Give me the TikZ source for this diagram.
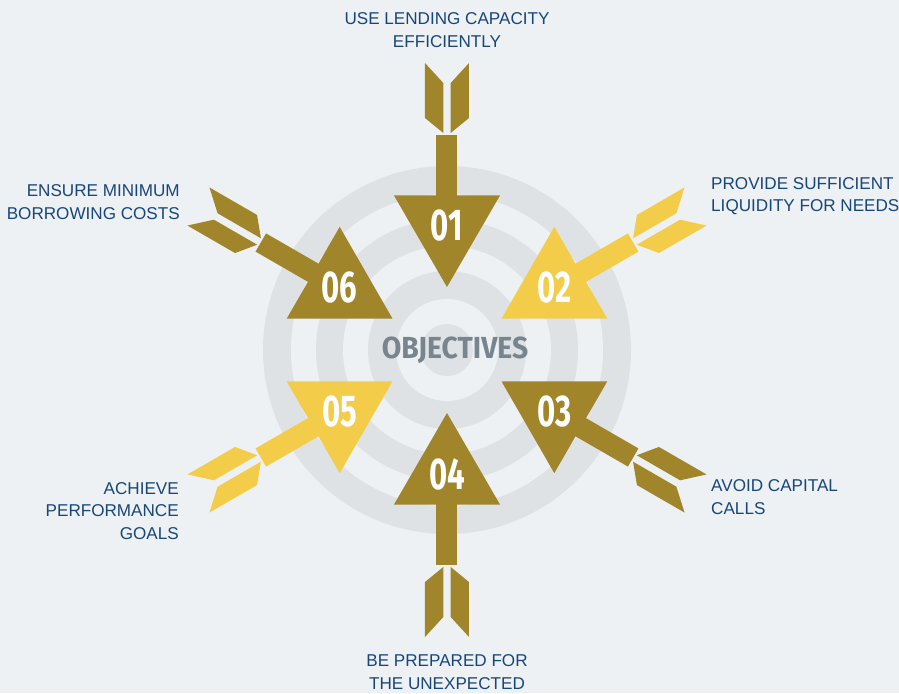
\documentclass[tikz,border=0pt]{standalone}
\usepackage{fontspec}
\setmainfont{Liberation Sans}
\newfontfamily\numfont[FakeStretch=0.7]{Fira Sans}
\newfontfamily\titlefont[FakeStretch=0.93]{Fira Sans}

\definecolor{bgcol}{HTML}{EDF1F3}
\definecolor{ringcol}{HTML}{DEE2E5}
\definecolor{gold}{HTML}{A0852B}
\definecolor{sun}{HTML}{F3CD4A}
\definecolor{labelblue}{HTML}{184679}
\definecolor{titlegray}{HTML}{78858F}

\tikzset{
  goal/.style={font=\fontsize{14.6}{19.2}\selectfont, text=labelblue, inner sep=0pt},
  numlabel/.style={font=\numfont\bfseries\fontsize{38}{38}\selectfont, text=white, inner sep=0pt},
}

\begin{document}
\begin{tikzpicture}[x=0.3mm, y=0.3mm]
  % fond
  \fill[bgcol] (-447,-343) rectangle (452,350);
  \useasboundingbox (-447,-343) rectangle (452,350);

  % cible
  \foreach \r/\c in {184/ringcol, 156/bgcol, 131/ringcol, 104/bgcol, 79/ringcol, 51/bgcol, 26/ringcol}
    \fill[\c] (0,0) circle (\r);

  % flèches : tige, plumes, pointe
  \foreach \a/\c/\n in {90/gold/01, 30/sun/02, -30/gold/03, -90/gold/04, -150/sun/05, 150/gold/06} {
    \begin{scope}[rotate=\a]
      \fill[\c] (150,-10.5) rectangle (215,10.5);
      \fill[\c] (217,3.7) -- (232,22) -- (287,22) -- (267,3.7) -- cycle;
      \fill[\c] (217,-3.7) -- (232,-22) -- (287,-22) -- (267,-3.7) -- cycle;
      \fill[\c] (63,0) -- (154.5,53) -- (154.5,-53) -- cycle;
    \end{scope}
    \node[numlabel] (n\n) at (\a:124) {\n};
  }

  \node[font=\titlefont\bfseries\fontsize{26}{26}\selectfont, text=titlegray] (title) at (8,0) {OBJECTIVES};

  % objectifs
  \node[goal, align=center] (g01) at (0,320) {USE LENDING CAPACITY\\EFFICIENTLY};
  \node[goal, align=left, anchor=west] (g02) at (264,154) {PROVIDE SUFFICIENT\\LIQUIDITY FOR NEEDS};
  \node[goal, align=left, anchor=west] (g03) at (264,-147) {AVOID CAPITAL\\CALLS};
  \node[goal, align=center] (g04) at (0,-322) {BE PREPARED FOR\\THE UNEXPECTED};
  \node[goal, align=right, anchor=east] (g05) at (-268,-161) {ACHIEVE\\PERFORMANCE\\GOALS};
  \node[goal, align=right, anchor=east] (g06) at (-267,148) {ENSURE MINIMUM\\BORROWING COSTS};
\end{tikzpicture}
\end{document}
